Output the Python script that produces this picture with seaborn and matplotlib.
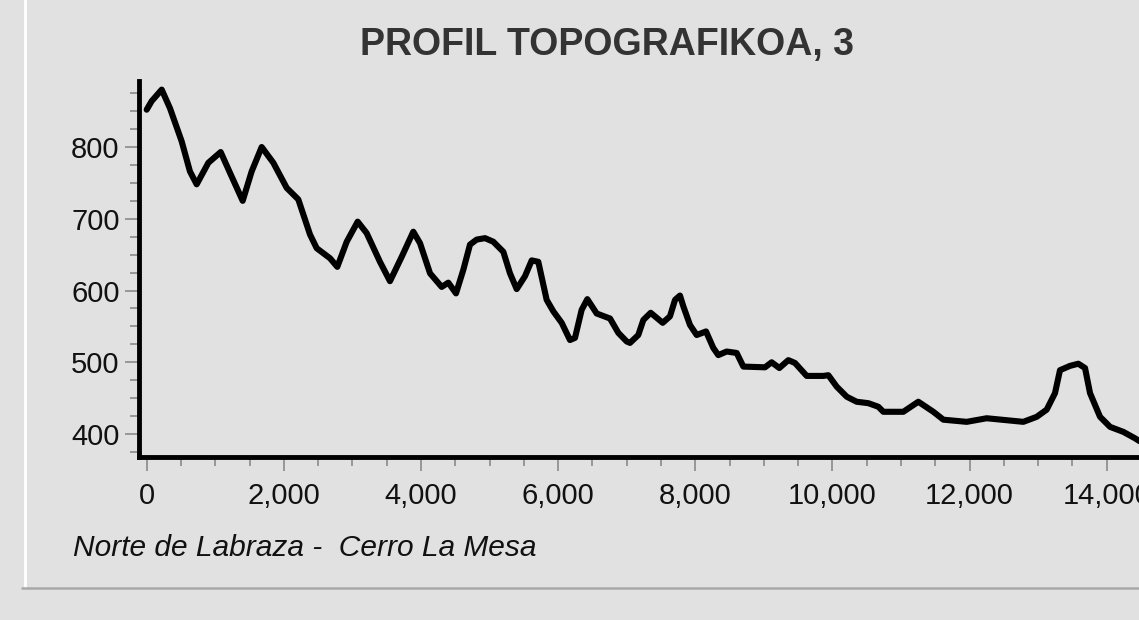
import numpy as np
import pandas as pd
import matplotlib
matplotlib.use('Agg')
from matplotlib import pyplot as plt
from matplotlib.lines import Line2D
from matplotlib.ticker import MultipleLocator, StrMethodFormatter
import seaborn as sns

# Profile data (distance in m, elevation in m)
distance = [0, 73, 219, 340, 510, 631, 729, 899, 1079, 1215, 1400, 1531, 1677, 1847,
            2042, 2211, 2382, 2479, 2673, 2780, 2917, 3077, 3208, 3402, 3548, 3719,
            3888, 3986, 4132, 4302, 4399, 4511, 4618, 4715, 4812, 4934, 5055, 5201,
            5298, 5396, 5517, 5615, 5711, 5833, 5930, 6052, 6173, 6246, 6343, 6426,
            6562, 6757, 6878, 7000, 7048, 7169, 7243, 7350, 7525, 7631, 7705, 7777,
            7826, 7923, 8021, 8157, 8263, 8336, 8458, 8604, 8701, 9017, 9114, 9226,
            9357, 9455, 9625, 9868, 9941, 10063, 10209, 10354, 10524, 10670, 10743,
            11034, 11253, 11472, 11618, 11958, 12250, 12784, 12979, 13125, 13246,
            13319, 13465, 13586, 13684, 13757, 13903, 14049, 14243, 14414, 14480]
elevation = [852, 864, 880, 854, 808, 766, 748, 778, 793, 764, 725, 766, 800, 778,
             743, 727, 678, 659, 645, 633, 668, 696, 680, 640, 613, 647,
             682, 666, 624, 605, 611, 596, 629, 664, 671, 673, 668, 654,
             624, 602, 620, 642, 640, 587, 571, 555, 531, 534, 573, 588,
             568, 561, 541, 529, 527, 538, 559, 569, 555, 564, 587, 593,
             578, 552, 538, 543, 520, 510, 515, 513, 494, 493, 500, 492,
             503, 499, 481, 481, 482, 466, 452, 445, 443, 438, 431,
             431, 445, 431, 420, 417, 422, 417, 424, 434, 457,
             489, 495, 498, 492, 457, 424, 410, 403, 394, 390]

title = "PROFIL TOPOGRAFIKOA, 3"
subtitle = "Norte de Labraza -  Cerro La Mesa"

df = pd.DataFrame({'distance': distance, 'elevation': elevation})

bg = '#e1e1e1'
sns.set_style('white', {'axes.facecolor': bg, 'figure.facecolor': bg})
plt.rcParams['font.family'] = ['Liberation Sans', 'DejaVu Sans']

fig = plt.figure(figsize=(11.39, 6.2), dpi=100)
ax = fig.add_axes([139 / 1139, 1 - 457 / 620, 1 - 139 / 1139, (457 - 81) / 620])

sns.lineplot(data=df, x='distance', y='elevation', ax=ax, color='black',
             linewidth=4.4, solid_joinstyle='round', solid_capstyle='round')

ax.set_xlim(-112, 14471)
ax.set_ylim(368, 892)
ax.xaxis.set_major_locator(MultipleLocator(2000))
ax.xaxis.set_minor_locator(MultipleLocator(500))
ax.yaxis.set_major_locator(MultipleLocator(100))
ax.yaxis.set_minor_locator(MultipleLocator(25))
ax.xaxis.set_major_formatter(StrMethodFormatter('{x:,.0f}'))

for s in ['top', 'right']:
    ax.spines[s].set_visible(False)
for s in ['left', 'bottom']:
    ax.spines[s].set_color('black')
    ax.spines[s].set_linewidth(3.5)

ax.tick_params(which='both', direction='out', color='#8a8a8a', width=1.2,
               labelsize=21, labelcolor='#111111')
ax.tick_params(which='major', length=10)
ax.tick_params(which='minor', length=6.5)
ax.tick_params(axis='x', which='both', pad=8, bottom=True)
ax.tick_params(axis='y', which='both', pad=4, left=True)
ax.set_xlabel('')
ax.set_ylabel('')

fig.text(607 / 1139, 1 - 45 / 620, title, ha='center', va='center',
         fontsize=27, fontweight='bold', color='#333333')
fig.text(73 / 1139, 1 - 548 / 620, subtitle, ha='left', va='center',
         fontsize=21.5, style='italic', color='#111111')

# panel frame lines
fig.add_artist(Line2D([25 / 1139, 25 / 1139], [1, 1 - 588 / 620],
                      transform=fig.transFigure, color='white', linewidth=2))
fig.add_artist(Line2D([22 / 1139, 1], [1 - 588 / 620, 1 - 588 / 620],
                      transform=fig.transFigure, color='#a8a8a8', linewidth=1.8))

fig.savefig('out.png', dpi=100, facecolor=bg)
